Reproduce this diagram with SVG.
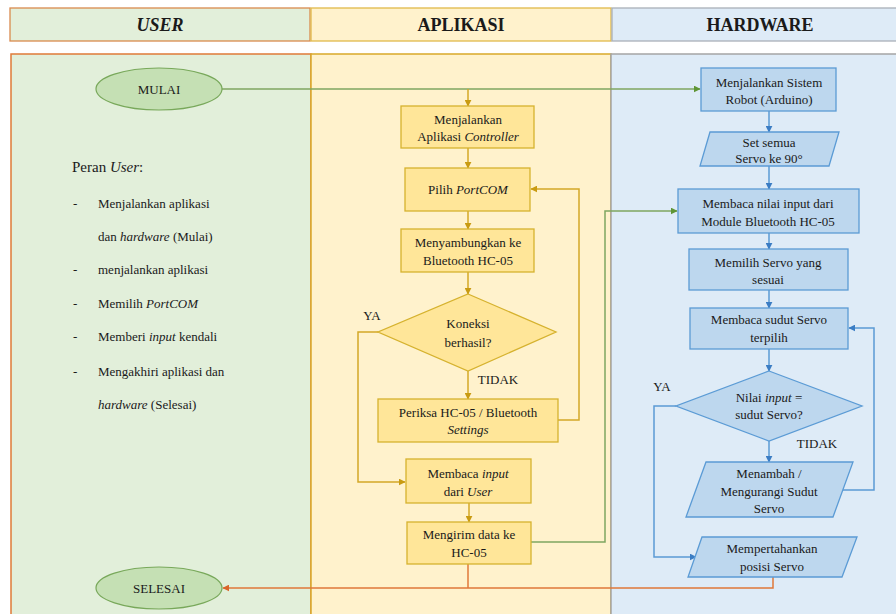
<svg xmlns="http://www.w3.org/2000/svg" width="896" height="614" viewBox="0 0 896 614" font-family="'Liberation Serif', Tinos, 'Times New Roman', 'DejaVu Serif', serif">
<style>
text{fill:#1a1a1a}
.hd{font-size:18px;font-weight:bold;text-anchor:middle}
.t{font-size:13px;text-anchor:middle}
.u{font-size:13px}
.i{font-style:italic}
.ab{fill:#ffe699;stroke:#d6b22e;stroke-width:1.3}
.hb{fill:#bdd7ee;stroke:#5b9bd5;stroke-width:1.3}
.el{fill:#c5e0b4;stroke:#78a85a;stroke-width:1.2}
.ca{fill:none;stroke:#d4a827;stroke-width:1.5}
.ch{fill:none;stroke:#5b9bd5;stroke-width:1.5}
.cg{fill:none;stroke:#7fa660;stroke-width:1.5}
.co{fill:none;stroke:#e0783a;stroke-width:1.5}
</style>
<defs>
<marker id="ma" viewBox="0 0 10 10" refX="9" refY="5" markerWidth="7" markerHeight="7" orient="auto" markerUnits="userSpaceOnUse"><path d="M0,0L10,5L0,10z" fill="#c99b12"/></marker>
<marker id="mh" viewBox="0 0 10 10" refX="9" refY="5" markerWidth="7" markerHeight="7" orient="auto" markerUnits="userSpaceOnUse"><path d="M0,0L10,5L0,10z" fill="#3b7dc4"/></marker>
<marker id="mg" viewBox="0 0 10 10" refX="9" refY="5" markerWidth="7" markerHeight="7" orient="auto" markerUnits="userSpaceOnUse"><path d="M0,0L10,5L0,10z" fill="#5f9535"/></marker>
<marker id="mo" viewBox="0 0 10 10" refX="9" refY="5" markerWidth="7" markerHeight="7" orient="auto" markerUnits="userSpaceOnUse"><path d="M0,0L10,5L0,10z" fill="#d9652a"/></marker>
</defs>
<rect width="896" height="614" fill="#ffffff"/>
<g id="lanes">
<rect x="10" y="8" width="300" height="33" fill="#e2efda" stroke="#d98a4e" stroke-width="1.3"/>
<rect x="311" y="8" width="300" height="33" fill="#fff2cc" stroke="#e0b94a" stroke-width="1.3"/>
<rect x="612" y="8" width="290" height="33" fill="#deebf7" stroke="#a9b0b8" stroke-width="1.3"/>
<text class="hd i" x="160" y="31">USER</text>
<text class="hd" x="461" y="31">APLIKASI</text>
<text class="hd" x="760" y="31">HARDWARE</text>
<rect x="11" y="54" width="300" height="570" fill="#e2efda" stroke="#e07b39" stroke-width="1.5"/>
<rect x="311" y="54" width="300" height="570" fill="#fff2cc" stroke="#d9a92a" stroke-width="1.5"/>
<rect x="611" y="54" width="292" height="570" fill="#deebf7" stroke="#a5a5a5" stroke-width="1.5"/>
</g>
<g id="peran">
<text x="72" y="172" style="font-size:15px">Peran <tspan class="i">User</tspan>:</text>
<text class="u" x="73" y="208">-</text><text class="u" x="98" y="208">Menjalankan aplikasi</text>
<text class="u" x="98" y="241">dan <tspan class="i">hardware</tspan> (Mulai)</text>
<text class="u" x="73" y="274">-</text><text class="u" x="98" y="274">menjalankan aplikasi</text>
<text class="u" x="73" y="308">-</text><text class="u" x="98" y="308">Memilih <tspan class="i">PortCOM</tspan></text>
<text class="u" x="73" y="341">-</text><text class="u" x="98" y="341">Memberi <tspan class="i">input</tspan> kendali</text>
<text class="u" x="73" y="376">-</text><text class="u" x="98" y="376">Mengakhiri aplikasi dan</text>
<text class="u" x="98" y="409"><tspan class="i">hardware</tspan> (Selesai)</text>
</g>
<g id="connectors">
<path class="cg" d="M222,89H700" marker-end="url(#mg)"/>
<path class="ca" d="M468,89V106" marker-end="url(#ma)"/>
<path class="ca" d="M468,148V168" marker-end="url(#ma)"/>
<path class="ca" d="M468,211V229" marker-end="url(#ma)"/>
<path class="ca" d="M468,272V294" marker-end="url(#ma)"/>
<path class="ca" d="M468,371V399" marker-end="url(#ma)"/>
<path class="ca" d="M558,420H579V189H531" marker-end="url(#ma)"/>
<path class="ca" d="M378,332H358V482H405" marker-end="url(#ma)"/>
<path class="ca" d="M469,503V522" marker-end="url(#ma)"/>
<path class="cg" d="M531,542H605V211H677" marker-end="url(#mg)"/>
<path class="co" d="M468,564V588"/>
<path class="co" d="M773,577V588H223" marker-end="url(#mo)"/>
<path class="ch" d="M769,111V132" marker-end="url(#mh)"/>
<path class="ch" d="M769,166V189" marker-end="url(#mh)"/>
<path class="ch" d="M769,233V249" marker-end="url(#mh)"/>
<path class="ch" d="M769,290V308" marker-end="url(#mh)"/>
<path class="ch" d="M769,349V371" marker-end="url(#mh)"/>
<path class="ch" d="M769,441V462" marker-end="url(#mh)"/>
<path class="ch" d="M843,490H874V328H849" marker-end="url(#mh)"/>
<path class="ch" d="M676,406H654V557H696" marker-end="url(#mh)"/>
<text class="t" x="372" y="320">YA</text>
<text class="t" x="498" y="384">TIDAK</text>
<text class="t" x="662" y="391">YA</text>
<text class="t" x="817" y="448">TIDAK</text>
</g>
<g id="mulai"><ellipse class="el" cx="159" cy="89" rx="63" ry="21"/><text class="t" x="159" y="93.5">MULAI</text></g>
<g id="selesai"><ellipse class="el" cx="159" cy="588" rx="63" ry="21"/><text class="t" x="159" y="592.5">SELESAI</text></g>
<g id="a1"><rect class="ab" x="401" y="106" width="133" height="42"/><text class="t" x="468" y="123.5">Menjalankan</text><text class="t" x="468" y="140.5">Aplikasi <tspan class="i">Controller</tspan></text></g>
<g id="a2"><rect class="ab" x="405" y="168" width="125" height="43"/><text class="t" x="468" y="193.5">Pilih <tspan class="i">PortCOM</tspan></text></g>
<g id="a3"><rect class="ab" x="401" y="229" width="133" height="43"/><text class="t" x="468" y="246.5">Menyambungkan ke</text><text class="t" x="468" y="264.5">Bluetooth HC-05</text></g>
<g id="a4"><polygon class="ab" points="468,294 556,332 468,371 378,332"/><text class="t" x="468" y="327.5">Koneksi</text><text class="t" x="468" y="346.5">berhasil?</text></g>
<g id="a5"><rect class="ab" x="378" y="399" width="180" height="43"/><text class="t" x="468" y="416.5">Periksa HC-05 / Bluetooth</text><text class="t i" x="468" y="433.5">Settings</text></g>
<g id="a6"><rect class="ab" x="406" y="459" width="125" height="44"/><text class="t" x="468" y="477.5">Membaca <tspan class="i">input</tspan></text><text class="t" x="468" y="495.5">dari <tspan class="i">User</tspan></text></g>
<g id="a7"><rect class="ab" x="407" y="522" width="124" height="42"/><text class="t" x="469" y="538.5">Mengirim data ke</text><text class="t" x="469" y="556.5">HC-05</text></g>
<g id="h1"><rect class="hb" x="701" y="68" width="135" height="43"/><text class="t" x="769" y="86.5">Menjalankan Sistem</text><text class="t" x="769" y="103.5">Robot (Arduino)</text></g>
<g id="h2"><polygon class="hb" points="710,132 839,132 829,166 700,166"/><text class="t" x="769" y="146.5">Set semua</text><text class="t" x="769" y="162.5">Servo ke 90°</text></g>
<g id="h3"><rect class="hb" x="678" y="189" width="181" height="44"/><text class="t" x="768" y="207.5">Membaca nilai input dari</text><text class="t" x="768" y="225.5">Module Bluetooth  HC-05</text></g>
<g id="h4"><rect class="hb" x="689" y="249" width="159" height="41"/><text class="t" x="768" y="266.5">Memilih Servo yang</text><text class="t" x="768" y="283.5">sesuai</text></g>
<g id="h5"><rect class="hb" x="690" y="308" width="158" height="41"/><text class="t" x="769" y="323.5">Membaca sudut Servo</text><text class="t" x="769" y="341.5">terpilih</text></g>
<g id="h6"><polygon class="hb" points="769,371 862,406 769,441 676,406"/><text class="t" x="769" y="401.5">Nilai <tspan class="i">input</tspan> =</text><text class="t" x="769" y="418.5">sudut Servo?</text></g>
<g id="h7"><polygon class="hb" points="706,462 853,462 833,517 686,517"/><text class="t" x="769" y="477.5">Menambah /</text><text class="t" x="769" y="495.5">Mengurangi Sudut</text><text class="t" x="769" y="512.5">Servo</text></g>
<g id="h8"><polygon class="hb" points="702,537 857,537 842,577 688,577"/><text class="t" x="772" y="552.5">Mempertahankan</text><text class="t" x="772" y="570.5">posisi Servo</text></g>
</svg>
